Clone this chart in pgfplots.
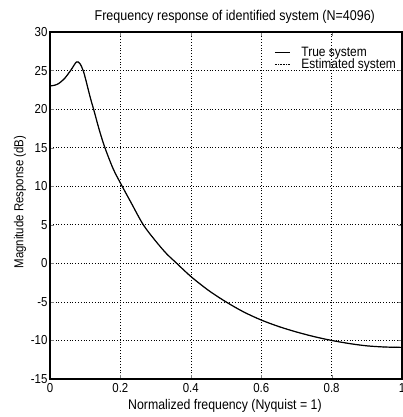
\documentclass[border=0pt]{standalone}
\usepackage{pgfplots}
\pgfplotsset{compat=1.18}
\usepackage{fontspec}
\setmainfont[FakeStretch=0.88]{Liberation Sans}

% Magnitude response (dB) versus normalized frequency
\pgfplotstableread{
f      mag
0.000  23.0
0.020  23.2
0.040  23.9
0.060  25.1
0.075  26.1
0.085  25.9
0.095  24.9
0.105  23.2
0.115  21.4
0.125  19.8
0.140  17.3
0.156  15.0
0.180  12.2
0.205  10.0
0.230   7.9
0.265   5.0
0.300   2.9
0.330   1.3
0.360   0.0
0.400  -1.7
0.450  -3.5
0.500  -5.0
0.550  -6.3
0.600  -7.35
0.650  -8.2
0.700  -8.9
0.750  -9.5
0.800 -10.0
0.850 -10.4
0.900 -10.7
0.950 -10.85
1.000 -10.9
}\resp

\begin{document}
\begin{tikzpicture}
\begin{axis}[
  scale only axis,
  width=352pt, height=347pt,
  xmin=0, xmax=1, ymin=-15, ymax=30,
  xtick={0,0.2,0.4,0.6,0.8,1},
  xticklabels={0,0.2,0.4,0.6,0.8,1},
  ytick={-15,-10,...,30},
  tick align=inside,
  major tick length=4pt,
  grid=major,
  major grid style={black, dash pattern=on 1pt off 1.8pt, line width=0.6pt},
  axis line style={line width=1.1pt},
  /pgf/number format/assume math mode=true,
  tick label style={font=\fontsize{13}{14}\selectfont},
  xticklabel style={yshift=-1pt},
  yticklabel style={xshift=1pt},
  every axis title shift=0pt,
  title={Frequency response of identified system (N=4096)},
  title style={font=\fontsize{14.2}{15}\selectfont,
    at={(axis description cs:0.525,1.044)}, anchor=center},
  xlabel={Normalized frequency (Nyquist = 1)},
  xlabel style={font=\fontsize{14}{15}\selectfont,
    at={(axis description cs:0.497,-0.078)}, anchor=center},
  ylabel={Magnitude Response (dB)},
  ylabel style={font=\fontsize{13}{14}\selectfont,
    at={(axis description cs:-0.085,0.51)}, anchor=center},
  legend image code/.code={\draw[#1] (0pt,0pt) -- (15pt,0pt);},
  legend style={draw=none, fill=none, at={(axis description cs:0.628,0.969)},
    anchor=north west, font=\fontsize{13.6}{14}\selectfont,
    row sep=-3pt, column sep=9pt},
  legend cell align=left,
]
\addplot[black, line width=1.2pt, smooth] table[x=f, y=mag] {\resp};
\addlegendentry{True system}
\addplot[black, densely dotted, line width=0.6pt, smooth] table[x=f, y=mag] {\resp};
\addlegendentry{Estimated system}
\end{axis}
\pgfresetboundingbox
\path ([shift={(-50pt,-38pt)}]current axis.south west)
  rectangle ([shift={(0pt,32pt)}]current axis.north east);
\end{tikzpicture}
\end{document}
